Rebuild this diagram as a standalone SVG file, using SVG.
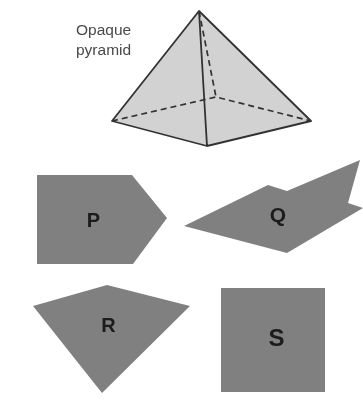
<svg xmlns="http://www.w3.org/2000/svg" width="363" height="405" viewBox="0 0 363 405">
  <defs>
    <filter id="soft" x="-5%" y="-5%" width="110%" height="110%"><feGaussianBlur stdDeviation="0.55"/></filter>
  </defs>
  <style>
    .node { filter: url(#soft); }
    .shape { fill: #808080; }
    .edge { fill: none; stroke: #333333; stroke-width: 1.8; stroke-linejoin: round; }
    .hidden { fill: none; stroke: #333333; stroke-width: 1.7; stroke-dasharray: 6 4; }
    .cap { font-family: "Liberation Sans", Arial, sans-serif; font-size: 15.5px; fill: #4a4a4a; }
    .letter { font-family: "Liberation Sans", Arial, sans-serif; font-size: 20px; font-weight: bold; fill: #1a1a1a; text-anchor: middle; }
  </style>
  <rect width="363" height="405" fill="#ffffff"/>
  <g id="pyramid" class="node">
    <polygon points="199,11 311,121 207,146 112,121" fill="#d2d2d2"/>
    <path class="hidden" d="M199,11 L216,97 M112,121 L216,97 L311,121"/>
    <path class="edge" d="M112,121 L199,11 L311,121 L207,146 Z M199,11 L207,146"/>
    <text class="cap" x="76" y="35">Opaque</text>
    <text class="cap" x="76" y="55">pyramid</text>
  </g>
  <g id="P" class="node">
    <polygon class="shape" points="37,175 132,175 167,218 133,264 37,264"/>
    <text class="letter" x="93.5" y="227">P</text>
  </g>
  <g id="Q" class="node">
    <polygon class="shape" points="184,226 268,185 287,191 360,160 348,203 363,208 287,253"/>
    <text class="letter" x="278" y="222" style="font-size:21px">Q</text>
  </g>
  <g id="R" class="node">
    <polygon class="shape" points="33,306 107,285 190,306 102,393"/>
    <text class="letter" x="108.5" y="331.5">R</text>
  </g>
  <g id="S" class="node">
    <rect class="shape" x="221" y="288" width="104" height="104"/>
    <text class="letter" x="276.5" y="346" style="font-size:24px">S</text>
  </g>
  <g id="connectors"/>
</svg>
